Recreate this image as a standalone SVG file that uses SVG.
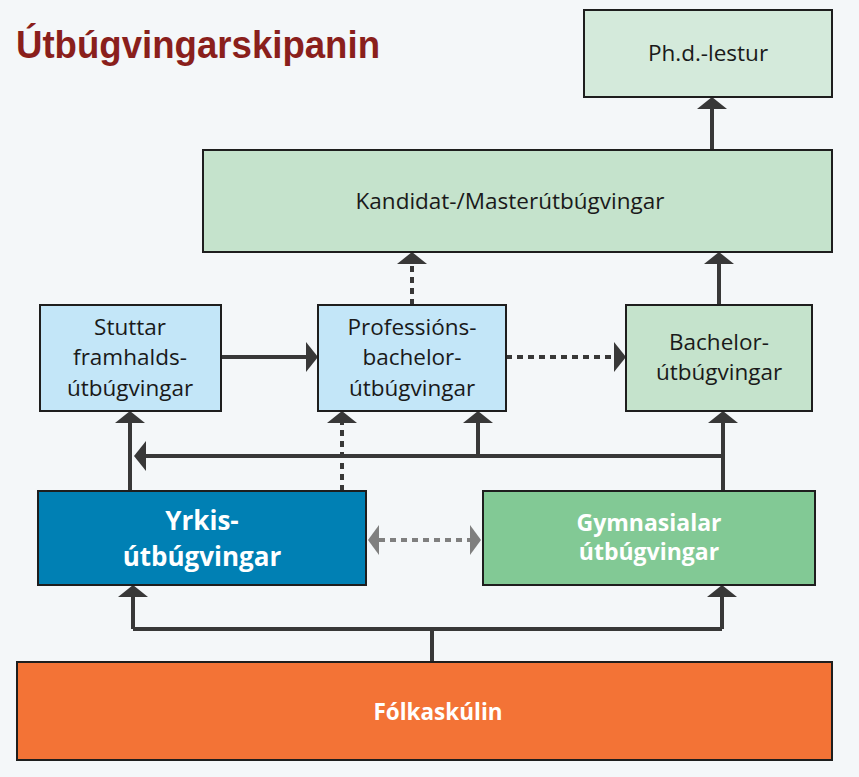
<svg xmlns="http://www.w3.org/2000/svg" width="859" height="777" viewBox="0 0 859 777">
<style>
.box{stroke:#1e1e1e;stroke-width:2}
.t{font-family:"Open Sans","Noto Sans","Liberation Sans",sans-serif;font-size:22.5px;fill:#1a1a1a;text-anchor:middle}
.tb{font-family:"Open Sans","Noto Sans","Liberation Sans",sans-serif;font-weight:bold;fill:#ffffff;text-anchor:middle}
.c{fill:none;stroke:#383838;stroke-width:4}
.d{stroke-dasharray:6 5}
.g{fill:none;stroke:#7f7f7f;stroke-width:4;stroke-dasharray:6 5}
</style>
<defs>
<marker id="ah" viewBox="0 0 12 30" refX="0" refY="15" markerWidth="12" markerHeight="30" markerUnits="userSpaceOnUse" orient="auto">
<path d="M0,0 L12,15 L0,30 z" fill="#383838"/>
</marker>
<marker id="ahg" viewBox="0 0 11 30" refX="0" refY="15" markerWidth="11" markerHeight="30" markerUnits="userSpaceOnUse" orient="auto-start-reverse">
<path d="M0,0 L11,15 L0,30 z" fill="#7f7f7f"/>
</marker>
</defs>
<rect width="859" height="777" fill="#f4f7f9"/>
<text x="16" y="58" font-family="'Liberation Sans Narrow','Liberation Sans',sans-serif" font-weight="bold" font-size="38" fill="#8a1f1c" textLength="364" lengthAdjust="spacingAndGlyphs">Útbúgvingarskipanin</text>

<g id="connectors">
<path class="c" d="M712,150 V109" marker-end="url(#ah)"/>
<path class="c" d="M719,305 V264" marker-end="url(#ah)"/>
<path class="c d" d="M412,305 V264" marker-end="url(#ah)"/>
<path class="c" d="M221,357 H306" marker-end="url(#ah)"/>
<path class="c d" d="M506,357 H614" marker-end="url(#ah)"/>
<path class="c" d="M130,491 V423" marker-end="url(#ah)"/>
<path class="c d" d="M342,491 V423" marker-end="url(#ah)"/>
<path class="c" d="M723,491 V423" marker-end="url(#ah)"/>
<path class="c" d="M723,456 H146" marker-end="url(#ah)"/>
<path class="c" d="M478,456 V423" marker-end="url(#ah)"/>
<path class="g" d="M379,540 H470" marker-start="url(#ahg)" marker-end="url(#ahg)"/>
<path class="c" d="M432,662 V629"/>
<path class="c" d="M133,629 H722"/>
<path class="c" d="M133,629 V597" marker-end="url(#ah)"/>
<path class="c" d="M722,629 V597" marker-end="url(#ah)"/>
</g>

<g id="phd">
<rect class="box" x="584" y="10" width="248" height="87" fill="#d4eadb"/>
<text class="t" x="708" y="61">Ph.d.-lestur</text>
</g>
<g id="kandidat">
<rect class="box" x="203" y="150" width="629" height="102" fill="#c5e3cc"/>
<text class="t" x="510" y="209">Kandidat-/Masterútbúgvingar</text>
</g>
<g id="stuttar">
<rect class="box" x="40" y="305" width="181" height="106" fill="#c3e6f8"/>
<text class="t" x="130" y="335">Stuttar</text>
<text class="t" x="130" y="365">framhalds-</text>
<text class="t" x="130" y="396">útbúgvingar</text>
</g>
<g id="professions">
<rect class="box" x="318" y="305" width="188" height="106" fill="#c3e6f8"/>
<text class="t" x="412" y="335">Professións-</text>
<text class="t" x="412" y="365">bachelor-</text>
<text class="t" x="412" y="396">útbúgvingar</text>
</g>
<g id="bachelor">
<rect class="box" x="626" y="305" width="186" height="106" fill="#c5e3cc"/>
<text class="t" x="719" y="350">Bachelor-</text>
<text class="t" x="719" y="380">útbúgvingar</text>
</g>
<g id="yrkis">
<rect class="box" x="38" y="491" width="328" height="94" fill="#0080b4"/>
<text class="tb" x="202" y="530" font-size="26">Yrkis-</text>
<text class="tb" x="202" y="566" font-size="26">útbúgvingar</text>
</g>
<g id="gymnasialar">
<rect class="box" x="483" y="491" width="332" height="94" fill="#82c995"/>
<text class="tb" x="649" y="531" font-size="23">Gymnasialar</text>
<text class="tb" x="649" y="560" font-size="23">útbúgvingar</text>
</g>
<g id="folkaskulin">
<rect class="box" x="17" y="662" width="815" height="98" fill="#f37336"/>
<text class="tb" x="438" y="720" font-size="22.5">Fólkaskúlin</text>
</g>
</svg>
